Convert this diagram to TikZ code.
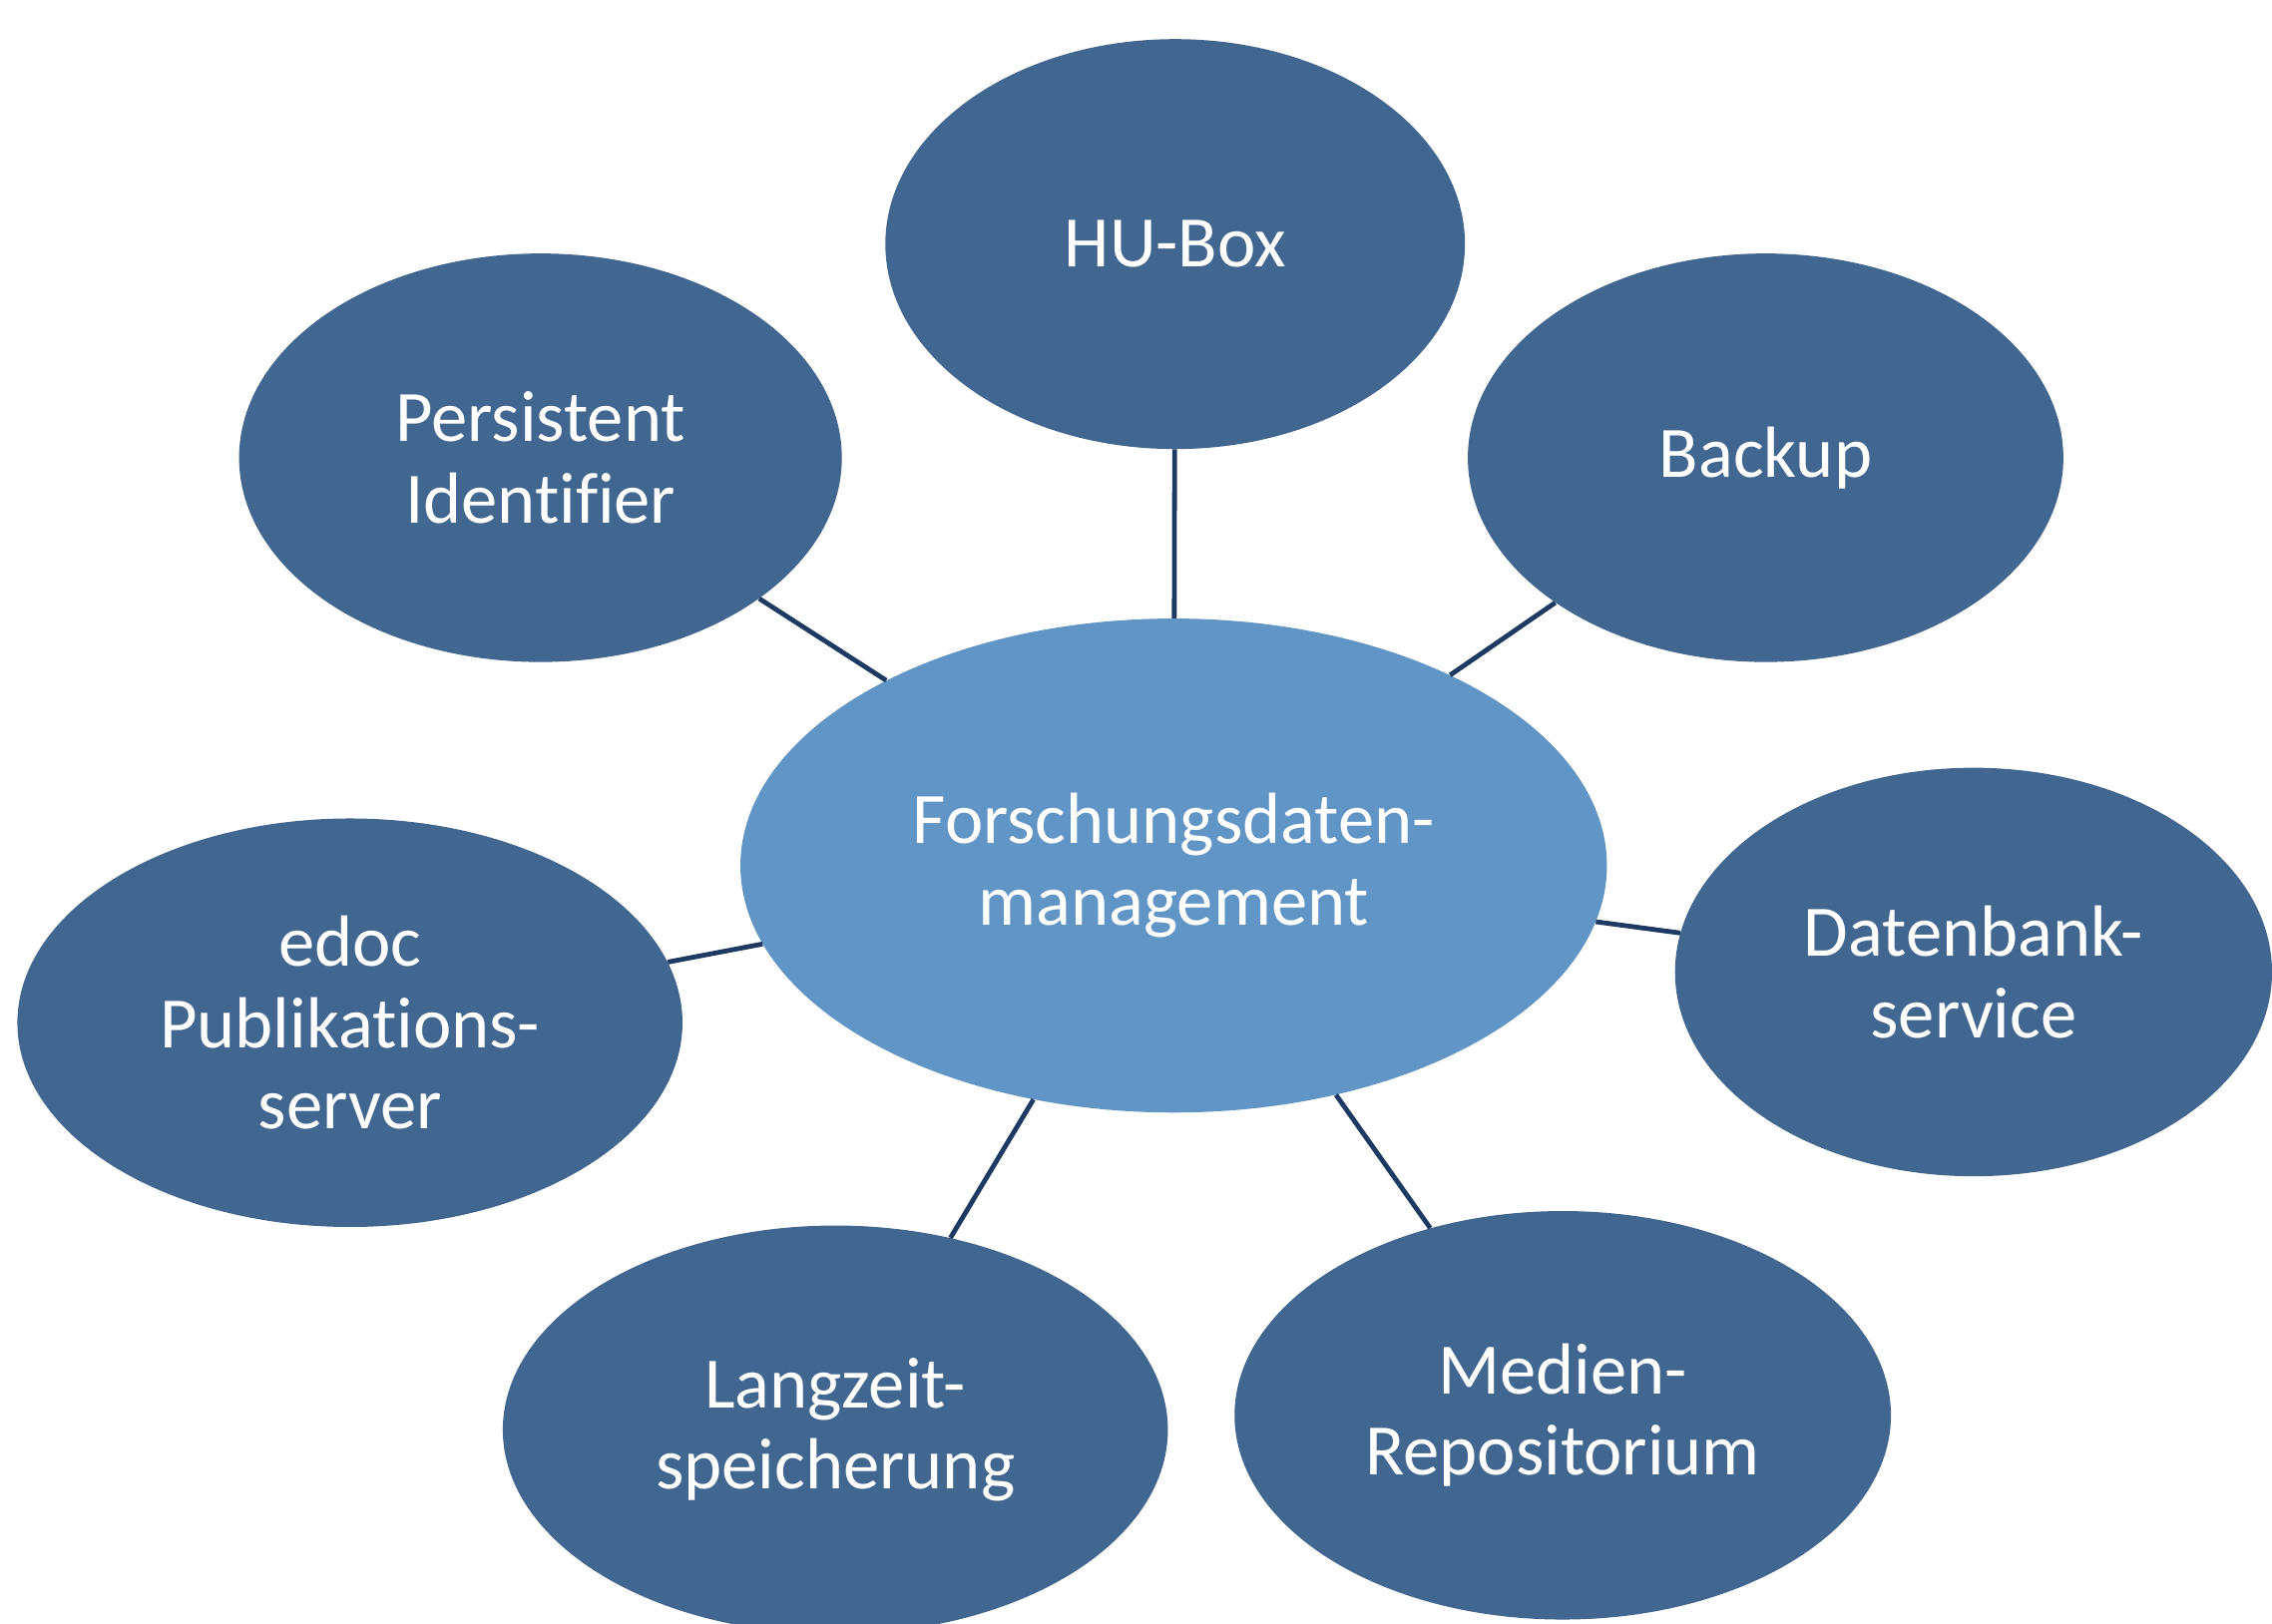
\documentclass[tikz,border=0pt]{standalone}
\usepackage{fontspec}
\setmainfont[Ligatures={NoCommon}]{Carlito}
\usetikzlibrary{shapes.geometric}
\definecolor{outerblue}{RGB}{65,102,143}
\definecolor{centerblue}{RGB}{96,149,197}
\definecolor{linenavy}{RGB}{30,58,98}
\tikzset{
  bubble/.style={ellipse, fill=outerblue, draw=none, inner sep=0pt, text=white,
    align=center, font=\fontsize{50}{56}\selectfont},
  hub/.style={bubble, fill=centerblue},
  link/.style={draw=linenavy, line width=3.3pt}
}
\begin{document}
\begin{tikzpicture}[x=1pt,y=-1pt]
\useasboundingbox (0,0) rectangle (1568,1121);
\node[hub, minimum width=598pt, minimum height=341pt] (fdm) at (810,597.5) {Forschungsdaten-\\management};
\node[bubble, minimum width=400pt, minimum height=283pt] (hu) at (811,168.5) {HU-Box};
\node[bubble, minimum width=416pt, minimum height=282pt] (pi) at (373,316) {Persistent\\Identifier};
\node[bubble, minimum width=411pt, minimum height=282pt] (bk) at (1218.5,316) {Backup};
\node[bubble, minimum width=459pt, minimum height=282pt] (ed) at (241.5,706) {edoc\\Publikations-\\server};
\node[bubble, minimum width=412pt, minimum height=282pt] (db) at (1362,671) {Datenbank-\\service};
\node[bubble, minimum width=459pt, minimum height=282pt] (lz) at (576.5,987) {Langzeit-\\speicherung};
\node[bubble, minimum width=453pt, minimum height=282pt] (mr) at (1078.5,977) {Medien-\\Repositorium};
\draw[link] (fdm) -- (hu);
\draw[link] (fdm) -- (pi);
\draw[link] (fdm) -- (bk);
\draw[link] (fdm) -- (ed);
\draw[link] (fdm) -- (db);
\draw[link] (fdm) -- (lz);
\draw[link] (fdm) -- (mr);
\end{tikzpicture}
\end{document}
